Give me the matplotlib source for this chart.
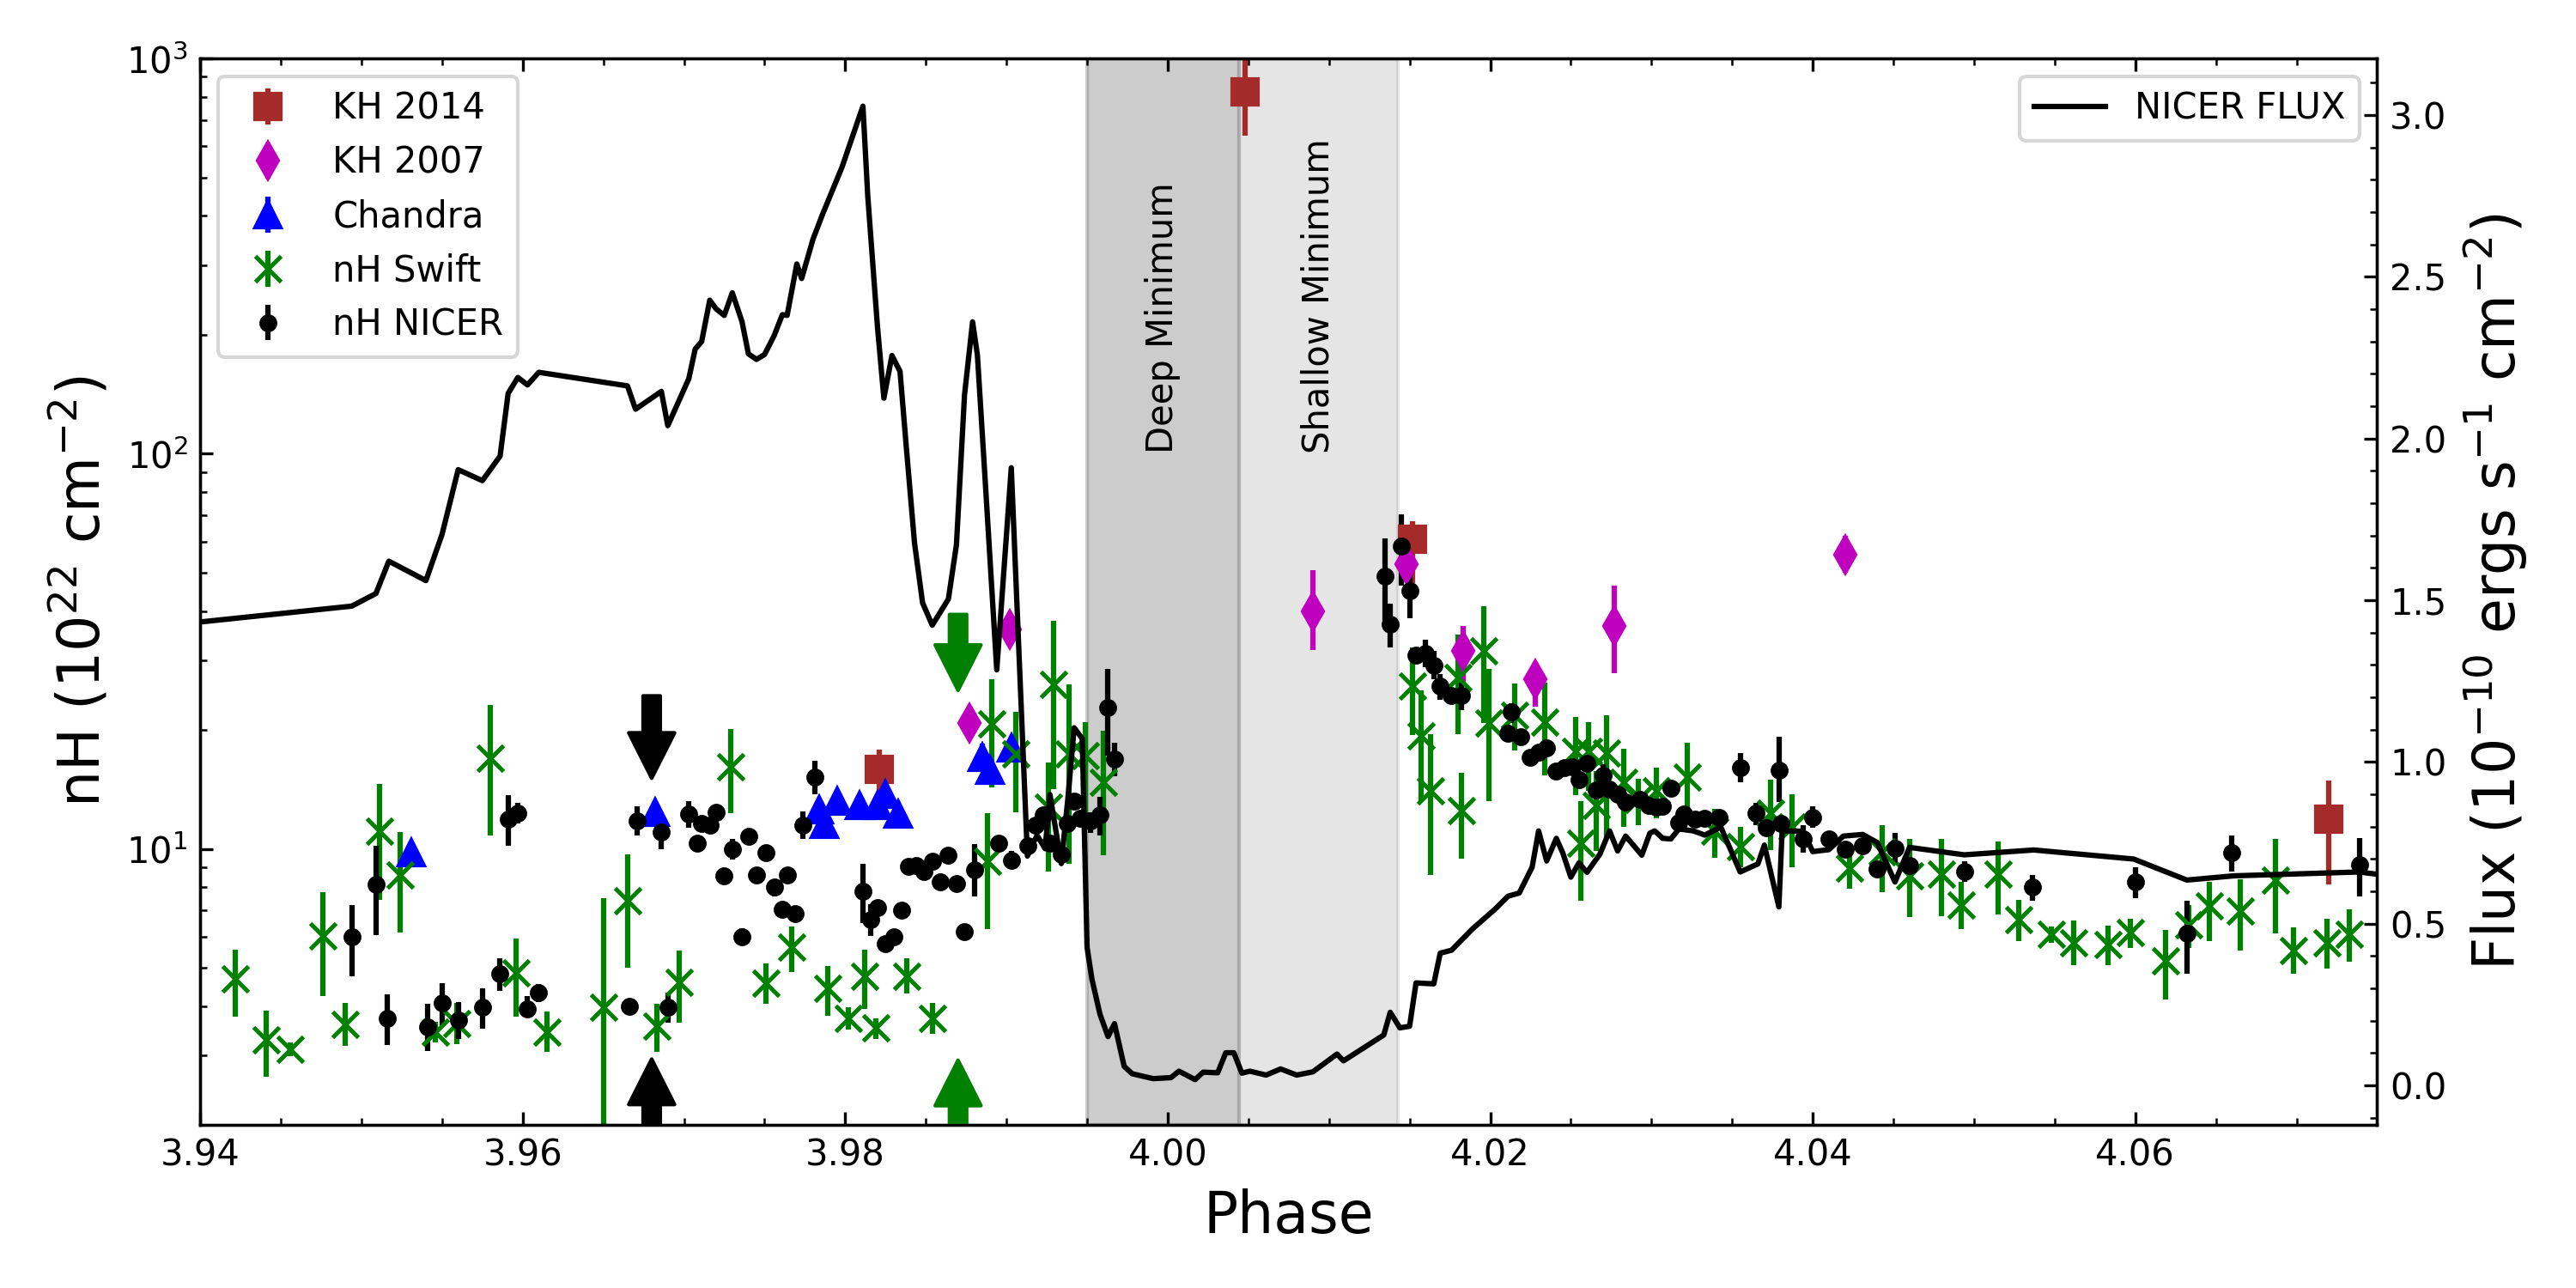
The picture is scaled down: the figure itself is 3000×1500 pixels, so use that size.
import numpy as np
import matplotlib
matplotlib.use('Agg')
import matplotlib.pyplot as plt
from matplotlib.patches import FancyArrowPatch

# ---------------- data ----------------
flux_phase = [3.9400, 3.9494, 3.9509, 3.9517, 3.9540, 3.9550, 3.9560, 3.9575, 3.9586, 3.9591,
              3.9597, 3.9603, 3.9610, 3.9665, 3.9670, 3.9686, 3.9690, 3.9703, 3.9707, 3.9711,
              3.9716, 3.9720, 3.9725, 3.9730, 3.9736, 3.9740, 3.9745, 3.9750, 3.9756, 3.9761,
              3.9764, 3.9770, 3.9773, 3.9780, 3.9786, 3.9798, 3.9811, 3.9814, 3.9820, 3.9824,
              3.9829, 3.9834, 3.9838, 3.9843, 3.9848, 3.9854, 3.9864, 3.9869, 3.9874, 3.9879,
              3.9882, 3.9887, 3.9894, 3.9903, 3.9913, 3.9916, 3.9919, 3.9924, 3.9927, 3.9931,
              3.9934, 3.9938, 3.9942, 3.9947, 3.9950, 3.9953, 3.9958, 3.9963, 3.9967, 3.9973,
              3.9978, 3.9991, 4.0002, 4.0007, 4.0017, 4.0022, 4.0031, 4.0036, 4.0041, 4.0046,
              4.0051, 4.0061, 4.0070, 4.0080, 4.0090, 4.0105, 4.0109, 4.0134, 4.0138, 4.0144,
              4.0150, 4.0154, 4.0165, 4.0169, 4.0176, 4.0189, 4.0203, 4.0211, 4.0218, 4.0226,
              4.0230, 4.0235, 4.0241, 4.0245, 4.0250, 4.0255, 4.0260, 4.0268, 4.0274, 4.0279,
              4.0284, 4.0294, 4.0299, 4.0302, 4.0307, 4.0312, 4.0317, 4.0326, 4.0333, 4.0343,
              4.0355, 4.0366, 4.0370, 4.0379, 4.0381, 4.0394, 4.0400, 4.0410, 4.0419, 4.0431,
              4.0440, 4.0451, 4.0460, 4.0494, 4.0537, 4.0599, 4.0632, 4.0661, 4.0739, 4.0770]
flux_values = [1.433, 1.482, 1.521, 1.621, 1.561, 1.704, 1.904, 1.870, 1.946, 2.140,
               2.189, 2.166, 2.205, 2.163, 2.091, 2.146, 2.040, 2.185, 2.277, 2.300,
               2.428, 2.401, 2.381, 2.451, 2.362, 2.262, 2.245, 2.260, 2.319, 2.383,
               2.381, 2.540, 2.495, 2.616, 2.694, 2.839, 3.028, 2.750, 2.347, 2.125,
               2.257, 2.208, 1.968, 1.677, 1.492, 1.423, 1.504, 1.672, 2.135, 2.361,
               2.258, 1.856, 1.285, 1.910, 0.709, 0.744, 0.773, 0.732, 0.899, 0.778,
               0.686, 0.882, 1.106, 1.072, 0.427, 0.329, 0.220, 0.151, 0.191, 0.059,
               0.036, 0.021, 0.024, 0.044, 0.018, 0.041, 0.039, 0.101, 0.101, 0.038,
               0.044, 0.032, 0.051, 0.032, 0.042, 0.097, 0.076, 0.156, 0.226, 0.178,
               0.183, 0.317, 0.314, 0.409, 0.418, 0.484, 0.545, 0.585, 0.595, 0.675,
               0.787, 0.694, 0.764, 0.719, 0.644, 0.688, 0.659, 0.715, 0.787, 0.725,
               0.771, 0.712, 0.780, 0.787, 0.764, 0.762, 0.793, 0.787, 0.774, 0.799,
               0.660, 0.685, 0.743, 0.552, 0.787, 0.786, 0.723, 0.729, 0.771, 0.776,
               0.751, 0.629, 0.736, 0.713, 0.728, 0.700, 0.635, 0.648, 0.660, 0.640]

nicer_phase = [3.9494, 3.9509, 3.9516, 3.9541, 3.9550, 3.9560, 3.9575, 3.9586, 3.9591, 3.9597,
               3.9603, 3.9610, 3.9666, 3.9671, 3.9686, 3.9690, 3.9703, 3.9708, 3.9711, 3.9716,
               3.9720, 3.9725, 3.9730, 3.9736, 3.9740, 3.9745, 3.9751, 3.9756, 3.9761, 3.9764,
               3.9769, 3.9774, 3.9781, 3.9811, 3.9816, 3.9820, 3.9825, 3.9830, 3.9835, 3.9839,
               3.9844, 3.9849, 3.9854, 3.9859, 3.9864, 3.9869, 3.9874, 3.9880, 3.9895, 3.9903,
               3.9913, 3.9918, 3.9923, 3.9927, 3.9934, 3.9938, 3.9942, 3.9946, 3.9952, 3.9958,
               3.9963, 3.9967, 4.0135, 4.0138, 4.0145, 4.0150, 4.0154, 4.0160, 4.0165, 4.0169,
               4.0176, 4.0182, 4.0211, 4.0213, 4.0219, 4.0225, 4.0230, 4.0235, 4.0241, 4.0246,
               4.0251, 4.0255, 4.0260, 4.0266, 4.0270, 4.0274, 4.0279, 4.0284, 4.0293, 4.0298,
               4.0303, 4.0307, 4.0312, 4.0317, 4.0320, 4.0327, 4.0333, 4.0342, 4.0355, 4.0365,
               4.0371, 4.0379, 4.0380, 4.0394, 4.0400, 4.0410, 4.0420, 4.0431, 4.0440, 4.0451,
               4.0460, 4.0494, 4.0536, 4.0600, 4.0632, 4.0660, 4.0739]
nicer_nh = [6.0, 8.12, 3.72, 3.55, 4.08, 3.69, 3.97, 4.84, 11.88, 12.31,
            3.94, 4.33, 4.0, 11.76, 11.03, 3.97, 12.24, 10.34, 11.6, 11.48,
            12.39, 8.54, 9.97, 6.0, 10.74, 8.58, 9.77, 8.03, 7.05, 8.58,
            6.86, 11.46, 15.2, 7.81, 6.61, 7.09, 5.77, 5.98, 7.0, 9.03,
            9.09, 8.76, 9.29, 8.24, 9.64, 8.16, 6.18, 8.84, 10.36, 9.35,
            10.2, 11.46, 12.18, 10.36, 9.70, 11.61, 13.23, 11.97, 11.8, 12.18,
            22.76, 16.87, 49.1, 37.1, 58.3, 45.1, 30.9, 31.3, 29.2, 25.8,
            24.5, 24.4, 19.65, 22.23, 19.19, 17.08, 17.61, 18.02, 15.74, 16.04,
            16.12, 14.96, 16.5, 14.08, 15.38, 14.18, 13.75, 13.13, 13.38, 12.92,
            12.76, 12.83, 14.24, 11.69, 12.25, 11.9, 11.96, 12.04, 16.04, 12.33,
            11.31, 15.82, 11.63, 10.58, 12.04, 10.58, 9.97, 10.21, 8.92, 10.04,
            9.07, 8.75, 8.0, 8.25, 6.11, 9.78, 9.14]
nicer_lo = [4.76, 6.06, 3.19, 3.08, 3.58, 3.30, 3.51, 4.37, 10.17, 11.6,
            3.76, 4.10, 4.0, 10.8, 9.97, 3.63, 11.29, 10.0, 11.3, 11.2,
            12.1, 8.2, 9.4, 5.7, 10.5, 8.2, 9.5, 7.6, 6.9, 8.3,
            6.7, 10.58, 13.73, 6.49, 6.02, 6.9, 5.6, 5.8, 6.7, 8.85,
            8.9, 8.6, 9.1, 8.05, 9.45, 8.0, 6.05, 7.59, 10.1, 8.9,
            10.0, 11.2, 11.9, 10.1, 9.5, 11.3, 12.9, 11.7, 11.0, 10.81,
            17.25, 15.3, 37.3, 32.4, 46.5, 38.3, 29.6, 28.9, 26.9, 23.9,
            23.8, 22.5, 18.7, 20.8, 18.8, 16.8, 17.3, 17.7, 15.5, 15.8,
            15.9, 14.7, 16.2, 13.8, 14.5, 13.9, 13.5, 12.9, 13.1, 12.7,
            12.5, 12.6, 14.0, 11.5, 12.0, 11.7, 11.7, 11.8, 14.75, 11.5,
            11.1, 13.13, 11.4, 9.8, 11.3, 10.35, 9.75, 10.0, 8.7, 9.14,
            8.85, 8.25, 7.4, 7.5, 4.83, 8.75, 7.6]
nicer_hi = [7.2, 10.17, 4.29, 4.05, 4.57, 4.10, 4.44, 5.29, 13.7, 13.08,
            4.24, 4.56, 4.0, 12.82, 11.71, 4.33, 13.2, 10.7, 11.9, 11.8,
            12.7, 8.9, 10.6, 6.3, 11.0, 9.0, 10.0, 8.4, 7.2, 8.95,
            7.0, 12.45, 16.69, 9.15, 7.24, 7.3, 5.95, 6.15, 7.3, 9.2,
            9.3, 8.95, 9.5, 8.45, 9.85, 8.35, 6.3, 10.29, 10.6, 9.9,
            10.4, 11.7, 12.5, 10.6, 9.9, 11.9, 13.6, 12.3, 12.4, 13.58,
            28.5, 18.6, 61.1, 41.7, 70.1, 52.9, 32.4, 33.8, 31.7, 27.7,
            25.2, 26.3, 20.6, 23.4, 19.6, 17.4, 17.9, 18.3, 16.0, 16.3,
            16.4, 15.2, 16.8, 14.35, 16.4, 14.45, 14.0, 13.4, 13.6, 13.15,
            13.0, 13.05, 14.5, 11.9, 12.5, 12.1, 12.2, 12.3, 17.49, 13.1,
            11.5, 19.19, 11.9, 11.5, 12.8, 10.8, 10.2, 10.45, 9.15, 10.96,
            9.3, 9.3, 8.6, 9.0, 7.38, 10.83, 10.65]

swift_phase = [3.9422, 3.9441, 3.9456, 3.9476, 3.9490, 3.9511, 3.9524, 3.9546, 3.9559, 3.9580,
               3.9596, 3.9615, 3.9650, 3.9665, 3.9683, 3.9697, 3.9729, 3.9751, 3.9767, 3.9789,
               3.9802, 3.9812, 3.9819, 3.9838, 3.9854, 3.9888, 3.9891, 3.9906, 3.9926, 3.9929,
               3.9939, 3.9949, 3.9960, 4.0152, 4.0157, 4.0163, 4.0180, 4.0182, 4.0196, 4.0199,
               4.0215, 4.0234, 4.0253, 4.0256, 4.0261, 4.0266, 4.0272, 4.0283, 4.0292, 4.0303,
               4.0322, 4.0339, 4.0355, 4.0374, 4.0387, 4.0423, 4.0443, 4.0460, 4.0480, 4.0492,
               4.0515, 4.0528, 4.0548, 4.0562, 4.0583, 4.0597, 4.0619, 4.0633, 4.0646, 4.0665,
               4.0687, 4.0698, 4.0719, 4.0733]
swift_nh = [4.69, 3.29, 3.12, 6.03, 3.59, 11.07, 8.58, 3.44, 3.61, 16.99,
            4.87, 3.44, 3.97, 7.41, 3.56, 4.60, 16.15, 4.57, 5.64, 4.44,
            3.73, 4.77, 3.52, 4.77, 3.72, 9.29, 20.73, 17.43, 12.73, 26.04,
            17.43, 17.25, 14.72, 25.8, 19.33, 14.02, 27.2, 12.53, 31.7, 20.8,
            21.82, 20.9, 17.69, 10.36, 17.69, 12.92, 17.49, 14.75, 13.38, 14.02,
            15.21, 11.1, 10.12, 12.33, 11.36, 8.96, 9.85, 8.55, 8.65, 7.21,
            8.65, 6.63, 6.07, 5.79, 5.72, 6.14, 5.21, 6.44, 7.16, 6.95,
            8.35, 5.53, 5.79, 6.07]
swift_lo = [3.76, 2.65, 2.99, 4.24, 3.17, 7.45, 6.15, 3.24, 3.20, 10.8,
            3.76, 3.06, 1.5, 5.01, 3.06, 3.63, 12.31, 4.05, 4.88, 3.79,
            3.5, 3.93, 3.31, 4.30, 3.40, 6.28, 14.33, 12.37, 8.76, 14.18,
            9.15, 11.92, 9.64, 19.43, 13.22, 8.6, 19.51, 9.43, 20.8, 13.22,
            17.78, 15.38, 13.69, 7.38, 14.02, 9.89, 10.65, 11.36, 11.5, 11.96,
            12.33, 9.48, 9.0, 9.93, 9.0, 7.93, 7.78, 6.72, 6.75, 6.26,
            6.83, 5.86, 5.8, 5.09, 5.09, 5.62, 4.16, 5.62, 5.86, 5.53,
            6.11, 4.83, 4.97, 5.18]
swift_hi = [5.57, 3.89, 3.24, 7.79, 4.08, 14.61, 11.03, 3.65, 4.08, 23.1,
            5.94, 3.88, 7.50, 9.68, 4.05, 5.54, 20.07, 5.14, 6.36, 5.06,
            3.98, 5.56, 3.73, 5.28, 4.08, 12.32, 26.9, 22.27, 16.59, 37.8,
            26.04, 20.96, 19.94, 32.3, 25.2, 19.51, 34.8, 15.56, 41.1, 28.5,
            26.2, 26.3, 21.57, 13.22, 20.9, 15.74, 21.82, 17.9, 15.03, 16.04,
            18.53, 12.62, 11.36, 14.96, 13.75, 10.09, 11.49, 10.62, 10.62, 8.25,
            10.45, 7.45, 6.37, 6.6, 6.41, 6.67, 6.25, 7.21, 8.25, 8.39,
            10.58, 6.32, 6.67, 7.05]

chandra_phase = [3.9531, 3.9682, 3.9784, 3.9787, 3.9795, 3.9809, 3.9820, 3.9825, 3.9833,
                 3.9885, 3.9890, 3.9903]
chandra_nh = [9.77, 12.39, 12.59, 11.54, 13.2, 12.92, 12.92, 13.73, 12.23, 17.06, 15.8, 18.0]
chandra_lo = [9.5, 12.0, 12.2, 11.2, 12.8, 12.5, 12.5, 13.3, 11.9, 16.5, 15.4, 17.5]
chandra_hi = [10.1, 12.8, 13.0, 11.9, 13.6, 13.3, 13.3, 14.2, 12.6, 18.5, 16.2, 18.5]

kh2014_phase = [3.9821, 4.0048, 4.0152, 4.0720]
kh2014_nh = [15.88, 823.7, 60.8, 11.9]
kh2014_lo = [14.03, 639.7, 47.1, 8.15]
kh2014_hi = [17.81, 1010.0, 67.5, 14.89]

kh2007_phase = [3.9877, 3.9902, 4.0090, 4.0148, 4.0183, 4.0228, 4.0277, 4.0420]
kh2007_nh = [20.86, 35.9, 40.0, 52.6, 31.7, 26.9, 36.6, 55.6]
kh2007_lo = [20.86, 33.0, 31.8, 48.0, 26.3, 22.9, 27.9, 50.0]
kh2007_hi = [20.86, 39.0, 50.7, 58.0, 36.6, 29.7, 46.5, 61.9]

deep_min = (3.995, 4.0044)
shallow_min = (4.0044, 4.0143)

arrow_phase = [3.968, 3.987]
arrow_colors = ['k', 'g']
arrow_down = [(24.4, 15.1), (39.2, 25.2)]
arrow_up = [(2.0, 2.94), (2.0, 2.92)]

# ---------------- figure ----------------
fig = plt.figure(figsize=(10, 5), dpi=300)
ax = fig.add_axes([0.0777, 0.1264, 0.8451, 0.8281])
ax2 = ax.twinx()

ax.axvspan(*deep_min, color='gray', alpha=0.4)
ax.axvspan(*shallow_min, color='gray', alpha=0.2)


def errbar(axis, x, y, lo, hi, **kw):
    y = np.asarray(y, float)
    yerr = [y - np.asarray(lo, float), np.asarray(hi, float) - y]
    return axis.errorbar(x, y, yerr=yerr, linestyle='none', elinewidth=1.5, **kw)


errbar(ax, kh2014_phase, kh2014_nh, kh2014_lo, kh2014_hi, fmt='s', color='brown', ms=7,
       label='KH 2014')
errbar(ax, kh2007_phase, kh2007_nh, kh2007_lo, kh2007_hi, fmt='d', color='m', ms=7,
       label='KH 2007')
errbar(ax, chandra_phase, chandra_nh, chandra_lo, chandra_hi, fmt='^', color='b', ms=7,
       label='Chandra')
errbar(ax, swift_phase, swift_nh, swift_lo, swift_hi, fmt='x', color='g', ms=7, mew=1.2,
       label='nH Swift')
errbar(ax, nicer_phase, nicer_nh, nicer_lo, nicer_hi, fmt='o', color='k', ms=4,
       label='nH NICER')

for xp, col, dn, up in zip(arrow_phase, arrow_colors, arrow_down, arrow_up):
    for (y0, y1) in (dn, up):
        ax.add_patch(FancyArrowPatch(posA=(xp, y0), posB=(xp, y1),
                                     arrowstyle='simple,head_length=12.7,head_width=12.8,tail_width=4.8',
                                     mutation_scale=1, color=col, shrinkA=0, shrinkB=0,
                                     zorder=4))

ax.text(np.mean(deep_min), 100, 'Deep Minimum', rotation=90, ha='center', va='bottom',
        fontsize=10)
ax.text(np.mean(shallow_min), 100, 'Shallow Minimum', rotation=90, ha='center', va='bottom',
        fontsize=10)

ax2.plot(flux_phase, flux_values, color='k', lw=1.5, label='NICER FLUX')

ax.set_yscale('log')
ax.set_ylim(2, 1000)
ax.set_xlim(3.94, 4.075)
ax2.set_ylim(-0.123, 3.175)

ax.minorticks_on()
ax2.minorticks_on()
ax.tick_params(which='both', direction='in', top=True, labelsize=10)
ax2.tick_params(which='both', direction='in', labelsize=10)

ax.set_xlabel('Phase', fontsize=16)
ax.set_ylabel(r'nH ($10^{22}$ cm$^{-2}$)', fontsize=16)
ax2.set_ylabel(r'Flux ($10^{-10}$ ergs s$^{-1}$ cm$^{-2}$)', fontsize=16)

ax.legend(loc='upper left', fontsize=10)
ax2.legend(loc='upper right', fontsize=10)

fig.savefig('out.png', dpi=300)
